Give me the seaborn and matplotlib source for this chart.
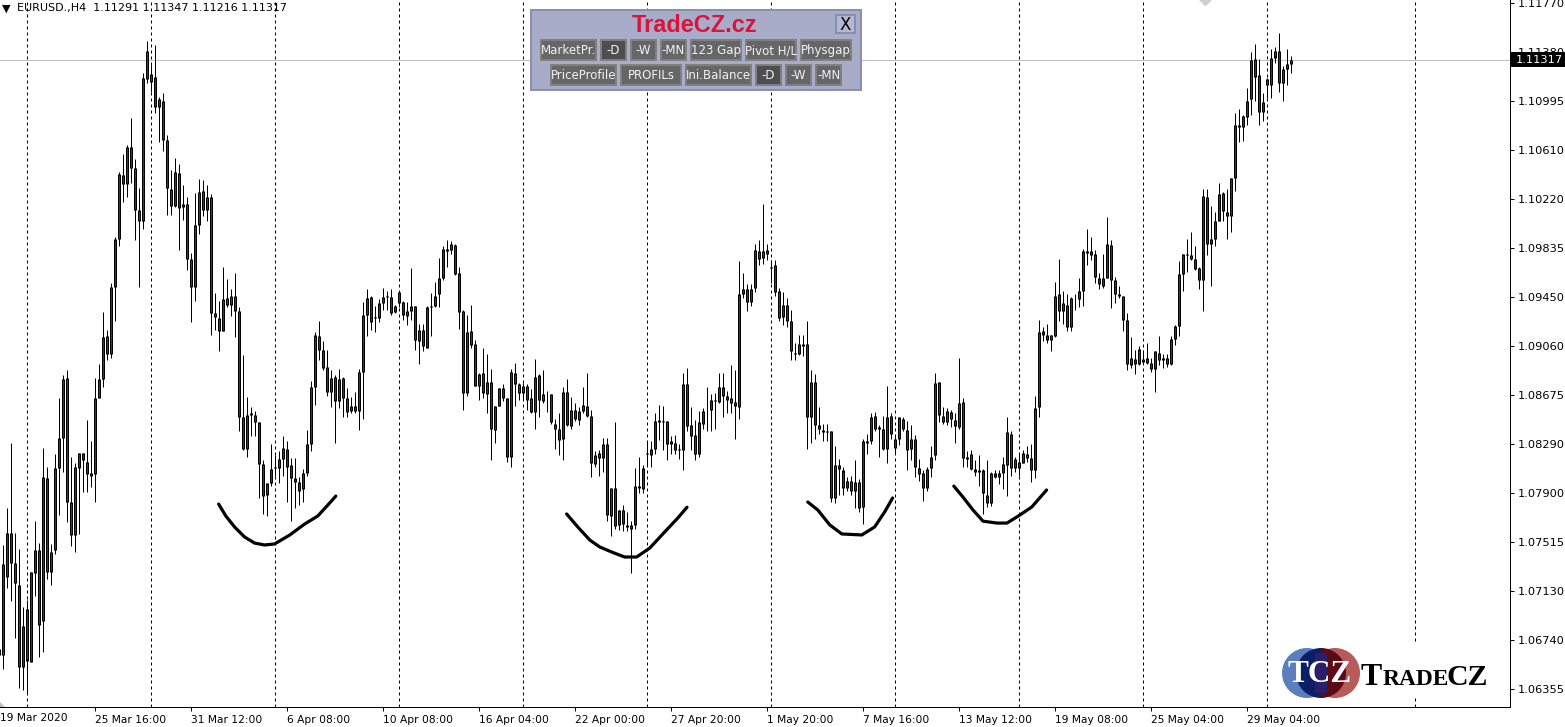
import matplotlib
matplotlib.use("Agg")
import matplotlib.pyplot as plt
from matplotlib.patches import Rectangle, Circle, Wedge, Polygon
import numpy as np
import pandas as pd
import seaborn as sns

# EURUSD H4 readings, in pips above 1.0600
BASE = 1.06
highs = [67,
149,178,230,159,146,100,106,128,168,151,
226,211,150,221,265,283,287,219,214,222,
222,248,231,281,292,333,319,356,392,444,
458,465,486,454,431,522,547,528,544,503,
506,473,445,455,450,433,424,380,427,438,
437,433,426,348,342,369,359,351,364,337,
299,266,258,255,246,216,198,229,220,223,
235,231,218,218,203,209,240,279,317,326,
310,303,287,283,288,282,273,266,270,288,
341,351,346,338,343,352,350,351,339,350,
342,341,368,338,324,324,338,348,357,376,
385,390,389,387,369,335,331,339,311,285,
305,300,288,259,273,276,265,288,293,277,
277,276,272,296,284,287,271,268,249,253,
274,280,266,261,258,274,285,256,223,224,
234,234,194,246,177,181,175,168,210,219,
212,231,231,253,260,259,247,235,236,229,
285,289,258,248,255,257,274,268,269,285,
285,271,291,287,373,364,355,355,387,390,
418,387,374,374,352,349,344,335,309,315,
315,326,287,284,258,245,245,239,227,217,
211,203,204,216,201,233,237,253,254,244,
251,275,253,236,250,250,247,244,236,217,
208,211,227,285,278,258,257,256,253,297,
265,223,224,216,220,209,216,207,208,208,
219,250,239,219,221,224,227,229,267,327,
321,324,315,357,375,350,347,345,347,360,
383,399,392,382,364,379,408,390,361,354,
346,332,313,303,306,303,309,297,302,314,
300,300,314,323,373,379,391,396,385,369,
430,430,417,412,435,428,430,439,490,493,
489,510,538,545,533,506,518,541,542,553,
527,541,535]
lows = [62,
51,115,105,76,36,35,32,57,109,61,
65,122,118,142,173,207,167,148,144,158,
191,191,195,183,265,274,295,297,326,385,
420,424,435,390,353,399,514,507,490,467,
460,410,410,416,382,406,366,325,342,395,
409,405,315,319,302,318,337,330,313,239,
224,219,235,235,186,174,172,196,204,198,
204,183,168,178,181,183,204,223,260,295,
287,267,258,230,257,250,250,253,253,240,
249,314,319,317,325,335,335,331,332,337,
327,323,327,303,292,302,305,314,337,337,
358,369,379,362,320,256,267,305,275,264,
265,253,216,230,259,263,215,211,259,264,
264,256,253,241,250,261,254,245,225,220,
216,243,241,247,244,253,250,203,211,204,
207,168,156,162,161,160,160,127,162,190,
190,212,211,221,232,224,216,221,221,217,
208,239,224,216,219,241,239,239,241,261,
250,253,253,233,249,344,334,338,349,370,
371,374,356,346,326,323,321,295,295,299,
298,225,230,233,237,231,231,183,182,189,
189,192,189,178,175,166,221,229,239,219,
224,214,233,221,228,239,208,216,203,200,
184,192,203,216,246,245,244,242,230,241,
211,211,208,204,196,174,179,180,202,197,
193,188,204,207,204,214,215,199,202,250,
310,309,302,313,326,324,318,318,335,337,
338,370,374,356,351,352,360,336,340,344,
318,287,289,284,291,293,292,286,270,291,
289,290,291,307,314,350,365,374,366,351,
334,378,354,385,405,405,391,396,429,467,
468,481,489,500,481,484,502,502,530,507,
500,512,522]
body_tops = [67,
134,159,159,135,118,85,99,128,145,145,
203,202,144,210,234,280,281,183,211,222,
222,215,206,265,280,313,314,353,391,442,
441,463,463,447,414,518,539,521,519,501,
500,469,430,444,443,418,418,375,402,428,
429,424,424,332,328,343,344,346,346,334,
250,252,253,252,246,213,198,209,211,217,
226,225,212,202,199,206,229,274,315,314,
303,290,281,282,280,281,265,259,259,286,
331,344,345,329,340,345,346,345,338,349,
341,334,338,338,319,319,337,338,346,360,
383,383,387,386,364,334,317,318,308,284,
285,278,278,259,273,273,265,286,285,276,
275,275,265,282,283,268,269,268,245,241,
270,270,256,256,255,260,259,251,220,222,
229,229,194,194,177,177,165,165,196,196,
210,222,225,247,248,247,247,231,230,225,
276,276,244,236,246,255,255,264,264,274,
274,267,265,262,347,351,351,351,382,381,
381,382,369,370,350,339,339,326,301,308,
308,308,278,278,244,240,239,239,212,212,
208,200,200,199,199,231,231,250,251,242,
241,250,251,233,250,249,240,233,233,210,
206,209,219,277,278,251,255,254,248,261,
262,219,221,209,208,208,189,206,206,206,
213,238,237,217,215,222,221,218,257,317,
318,315,315,346,347,340,339,344,343,350,
381,381,381,379,360,360,387,386,358,347,
346,327,297,296,304,296,297,293,302,301,
297,297,312,322,363,379,379,378,375,368,
425,424,391,405,426,427,412,439,481,481,
488,500,532,533,520,499,517,534,539,539,
525,529,532]
body_bottoms = [62,
62,124,135,119,53,53,58,57,127,86,
89,128,128,145,210,234,183,157,157,210,
216,205,204,205,265,280,300,300,353,391,
434,434,447,414,405,405,517,515,495,495,
469,431,417,417,415,416,375,353,353,402,
414,414,332,329,318,318,339,339,334,250,
225,225,252,246,213,188,189,198,210,210,
217,211,202,199,192,193,206,229,274,303,
289,270,270,263,263,265,254,255,255,255,
286,331,325,328,328,340,345,332,333,340,
331,330,334,311,310,306,305,337,338,347,
360,381,382,363,333,269,269,307,275,275,
269,268,241,240,259,265,219,219,276,269,
269,264,254,254,264,263,269,246,241,232,
233,244,243,249,248,255,251,214,213,218,
218,173,172,164,165,166,163,162,165,194,
193,221,220,225,246,246,229,229,224,224,
224,243,235,221,221,245,255,256,263,262,
267,264,261,259,258,347,341,341,352,375,
376,379,368,349,328,329,326,302,300,300,
306,250,250,244,241,238,238,186,186,209,
194,194,192,192,178,179,230,231,241,241,
225,225,237,226,233,241,224,225,211,205,
194,194,210,220,252,246,246,249,243,242,
218,217,209,207,207,190,182,182,203,203,
206,212,210,210,210,214,218,208,208,258,
315,311,311,314,334,334,321,321,343,343,
350,380,378,361,355,354,360,358,347,346,
327,292,291,292,292,294,293,288,288,295,
295,292,292,312,322,363,378,375,367,358,
358,387,387,391,405,413,409,409,439,479,
479,487,501,519,491,491,512,512,534,514,
514,525,529]
directions = ("G"
"GGRRRGRGGR" "GRGGGGRRGG" "RRRGGGRGGG" "RGRRRGGGRG" "RRRGRGRRGG" "RGRRRGRGRR"
"RGGRRRGGGG" "GRRRRGGGGR" "RRGRGRRGRG" "GGRRGGGRGR" "RGGRGRGGGG" "GRGRRRGRRG"
"RGRGGRRGRR" "GRRGRGGRRR" "GRGRGGRRGR" "GRGRGRRGGR" "GGGGRRRGRG" "GRRRGGGGGG"
"RRRGGGRGGR" "GRGRRGRRRG" "RRGRRRRRGR" "RGRGRGGGRR" "RGRGGRRGRR" "RGGGRRGRRG"
"RGRRGRRGRG" "GGRGGGRRGG" "RRGGRGRGGG" "GGRRRGGRRR" "RRGRGGRRGR" "GRGGGGGRRR"
"GRGGGRRGGR" "GGGRRGRGGR" "GGG")

price_ticks = [1.11770,1.11380,1.10995,1.10610,1.10220,1.09835,1.09450,1.09060,
               1.08675,1.08290,1.07900,1.07515,1.07130,1.06740,1.06355]
time_labels = ["25 Mar 16:00","31 Mar 12:00","6 Apr 08:00","10 Apr 08:00","16 Apr 04:00",
               "22 Apr 00:00","27 Apr 20:00","1 May 20:00","7 May 16:00","13 May 12:00",
               "19 May 08:00","25 May 04:00","29 May 04:00"]
time_bars = [23,47,71,95,119,143,167,191,215,239,263,287,311]
session_bars = [6,37,68,99,130,161,192,223,254,285,316,353]
last_price = 1.11317

# hand-drawn strokes: (bar number, pips above 1.0600)
stroke_bars = [[53.9,55.7,57.9,60.4,62.9,65.4,67.9,71.7,75.4,78.7,81.2,83.2],
               [140.9,143.7,146.7,149.2,152.2,155.4,158.4,161.7,165.4,168.7,171],
               [201.2,203.7,206.7,209.7,214.7,217.9,220.4,222.4],
               [237.7,240,242.5,245,248.5,251,254.2,257.2,260.9]]
stroke_pips = [[181.5,172.1,163.4,155.5,150.7,149.2,150,157.1,165.7,172.1,180.7,187.8],
               [173.7,163.4,153.1,147.6,143.6,139.7,139.7,146.8,159.4,170.5,179],
               [183.1,176.8,165,157.9,157.1,163.4,175.2,186.3],
               [195.7,187,176.8,168,166.5,166.5,172.8,179.2,192.6]]

sns.set_theme(style="white")
plt.rcParams["font.family"] = ["DejaVu Sans"]
W, H = 1565, 727
fig = plt.figure(figsize=(W/100, H/100), dpi=100, facecolor="white")
ax = fig.add_axes([0, 20/H, 1509.5/W, 707/H])

df = pd.DataFrame({"high": highs, "low": lows, "top": body_tops, "bottom": body_bottoms,
                   "dir": list(directions)})
df["bar"] = np.arange(len(df)) - 1
# the coloured core sits one screen row inside the black outline where the body is tall enough
inset = 0.8
df["core_top"] = df["top"] - inset
df["core_bottom"] = df["bottom"] + inset
for c in ["high", "low", "top", "bottom", "core_top", "core_bottom"]:
    df[c] = BASE + df[c] / 1e4

PX = 0.72
wicks = df.melt(id_vars="bar", value_vars=["high", "low"], value_name="price")
sns.lineplot(data=wicks, x="bar", y="price", units="bar", estimator=None, color="black",
             linewidth=PX, ax=ax, legend=False, zorder=3, solid_capstyle="butt")
tall = df[df["top"] - df["bottom"] > 1.5e-4]
bodies = df.melt(id_vars="bar", value_vars=["top", "bottom"], value_name="price")
sns.lineplot(data=bodies, x="bar", y="price", units="bar", estimator=None, color="black",
             linewidth=3 * PX, ax=ax, legend=False, zorder=4, solid_capstyle="butt")
cores = tall.melt(id_vars=["bar", "dir"], value_vars=["core_top", "core_bottom"], value_name="price")
sns.lineplot(data=cores, x="bar", y="price", units="bar", estimator=None, hue="dir",
             palette={"G": "#006400", "R": "#c80000"}, linewidth=PX, ax=ax, legend=False,
             zorder=5, solid_capstyle="butt")
for s in session_bars:
    ax.axvline(s, color="black", lw=PX, ls=(0, (3, 3)), zorder=1)
ax.axhline(last_price, color="#c0c0c0", lw=PX, zorder=2)
for xs, ps in zip(stroke_bars, stroke_pips):
    sns.lineplot(x=xs, y=BASE + np.array(ps) / 1e4, color="black", linewidth=2.3, sort=False,
                 estimator=None, ax=ax, legend=False, zorder=6, solid_capstyle="round")

ax.set_xlim((0 - 3.0) / 4, (1509.5 - 3.0) / 4)
ax.set_ylim(BASE + 21.3 / 1e4, BASE + 579.4 / 1e4)
ax.set_xlabel(""); ax.set_ylabel("")
ax.yaxis.tick_right()
ax.set_yticks(price_ticks, [f"{p:.5f}" for p in price_ticks])
ax.set_xticks(time_bars, time_labels, ha="left")
ax.tick_params(axis="y", length=3, width=PX, pad=3, labelsize=8.2, colors="black", right=True)
ax.tick_params(axis="x", length=3, width=PX, pad=3, labelsize=7.7, colors="black", bottom=True)
for name, sp in ax.spines.items():
    sp.set_visible(name in ("right", "bottom"))
    sp.set_color("black"); sp.set_linewidth(PX)

# overlay in screen pixels for the terminal's furniture
ov = fig.add_axes([0, 0, 1, 1], zorder=10)
ov.set_xlim(0, W); ov.set_ylim(H, 0); ov.axis("off"); ov.patch.set_alpha(0)

ov.text(0, 718, "19 Mar 2020", fontsize=7.7, va="center", color="black")
ov.add_patch(Polygon([(0, 702), (5, 707), (0, 707)], fc="#c0c0c0", ec="none"))
ov.text(1.5, 9, "\u25BC", fontsize=8, va="center", color="black")
ov.text(17, 8.5, "EURUSD.,H4  1.11291 1.11347 1.11216 1.11317", fontsize=8.05, va="center", color="black")
ov.plot([1205], [-1], marker="D", ms=6, color="#cfcfcf", clip_on=True)

# last price tag
ov.add_patch(Rectangle((1511, 52), 54, 15, fc="black", ec="none"))
ov.text(1516, 60, "1.11317", color="white", fontsize=8.2, va="center")

# control panel
ov.add_patch(Rectangle((531, 10), 330, 80, fc="#a9acc9", ec="#8a8cae", lw=1.4))
ov.text(695, 26, "TradeCZ.cz", color="#dc143c", fontsize=16.9, fontweight="bold",
        family="Liberation Sans", ha="center", va="center")
ov.add_patch(Rectangle((836, 15), 19, 18, fc="#b4b7d2", ec="#8a8cae", lw=1.4))
ov.text(845.5, 24.5, "X", fontsize=12, ha="center", va="center", color="black")
buttons = [("MarketPr.",541,596,40,False),("-D",601,626,40,True),("-W",631,656,40,False),
           ("-MN",661,686,40,False),("123 Gap",691,741,40,False),("Pivot H/L",746,796,40,False),
           ("Physgap",801,851,40,False),("PriceProfile",551,616,65,False),("PROFILs",621,681,65,False),
           ("Ini.Balance",686,751,65,False),("-D",756,781,65,True),("-W",786,811,65,False),
           ("-MN",816,841,65,False)]
for label, x0, x1, y0, pressed in buttons:
    r = Rectangle((x0, y0), x1 - x0, 20, fc="#4e4e4e" if pressed else "#666666",
                  ec="#808080", lw=1.4)
    ov.add_patch(r)
    t = ov.text((x0 + x1) / 2, y0 + 10.5, label, color="#f2f2f2", fontsize=8.5, ha="center", va="center")
    t.set_clip_path(r)

# logo
ov.add_patch(Rectangle((1279, 643), 213, 55, fc="white", ec="none", zorder=1))
cx, cy, r = 1321, 673, 25
ov.add_patch(Circle((cx - 14, cy), r, fc="#5b7fbd", ec="none", zorder=2))
ov.add_patch(Circle((cx + 14, cy), r, fc="#b65a5a", ec="none", zorder=2))
ov.add_patch(Wedge((cx, cy), r, 90, 270, fc="#0a1f66", ec="none", zorder=3))
ov.add_patch(Wedge((cx, cy), r, -90, 90, fc="#5c0a14", ec="none", zorder=3))
ov.add_patch(Rectangle((cx - 6, cy - 20), 12, 40, fc="#2a1f68", ec="none", zorder=3))
ov.text(cx - 1, cy + 1, "TCZ", color="white", fontsize=22.5, fontweight="bold", family="Liberation Serif",
        ha="center", va="center", zorder=4)
ov.text(1361, 685, "T", color="black", fontsize=23, fontweight="bold", family="Liberation Serif",
        va="baseline", zorder=4)
ov.text(1383, 685, "RADE", color="black", fontsize=16.8, fontweight="bold", family="Liberation Serif",
        va="baseline", zorder=4)
ov.text(1447, 685, "CZ", color="black", fontsize=21.5, fontweight="bold", family="Liberation Serif",
        va="baseline", zorder=4)

fig.savefig("out.png", dpi=100)
